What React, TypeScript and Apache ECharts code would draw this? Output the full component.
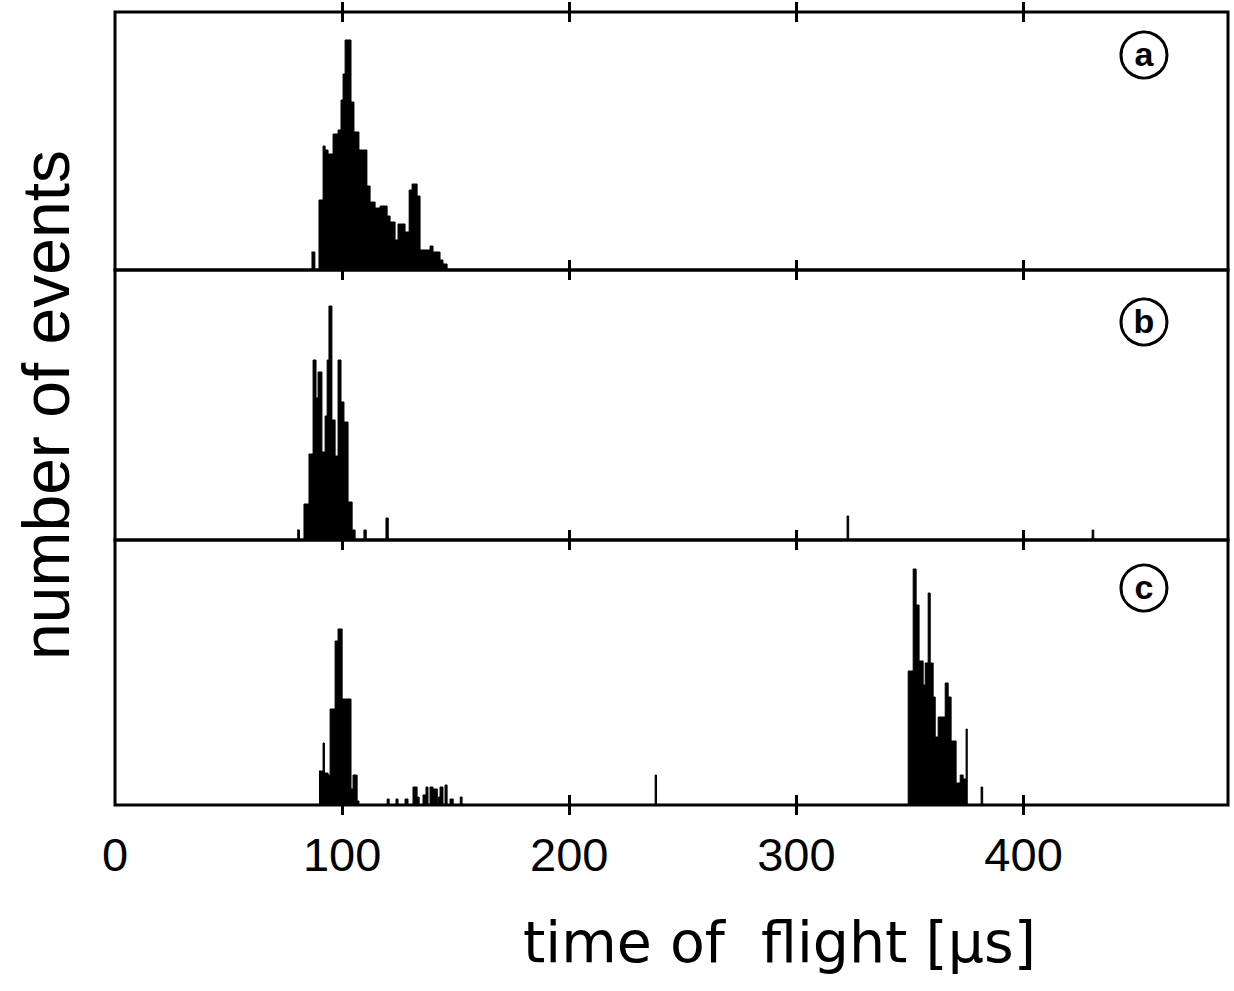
import React, { useEffect, useRef } from "react";
import * as echarts from "echarts";

const X_MIN = 0;
const X_MAX = 490;
const TICK_VALUES = [100, 200, 300, 400];
const LABEL_VALUES = [0, 100, 200, 300, 400];
const Y_MAX = [129, 135, 132.5];
const PANEL_LABELS = ["a", "b", "c"];
const X_TITLE = "time of  flight [μs]";
const Y_TITLE = "number of events";

// histogram bins: [bin start (μs), events]; a bin lasts until the next entry
const PANEL_A = [
  [86.5, 9], [88.0, 0], [89.8, 35], [91.6, 62], [92.5, 60], [93.8, 58], [96.0, 68],
  [98.2, 70], [99.5, 85], [100.4, 98], [101.3, 115], [103.9, 84], [105.2, 69],
  [107.4, 60], [109.2, 60], [110.9, 42], [112.3, 34], [114.5, 31], [116.7, 32],
  [119.8, 27], [121.1, 24], [123.3, 15], [124.6, 23], [127.7, 19], [129.5, 40],
  [130.8, 43], [133.0, 37], [134.3, 10], [135.6, 10], [138.7, 12], [140.0, 9],
  [143.1, 5], [144.4, 3], [146.2, 0],
];

const PANEL_B = [
  [80.2, 5], [81.2, 0], [83.2, 18], [85.4, 43], [87.2, 90], [88.5, 71], [89.4, 84],
  [91.1, 44], [92.5, 62], [93.4, 90], [94.2, 117], [95.5, 60], [96.9, 42],
  [98.2, 90], [99.5, 69], [100.8, 59], [102.6, 19], [104.4, 5], [105.7, 0],
  [109.6, 5], [110.6, 0], [119.3, 11], [120.3, 0], [322.3, 12], [323.0, 0],
  [430.2, 5], [430.9, 0],
];

const PANEL_C = [
  [89.8, 17], [91.6, 31], [92.2, 16], [93.8, 15], [94.7, 48], [96.9, 82], [98.2, 88],
  [100.0, 53], [103.9, 8], [104.8, 15], [106.6, 2], [107.4, 0],
  [119.8, 3], [120.7, 0], [123.7, 3], [124.6, 0], [127.7, 3], [129.0, 0],
  [131.2, 9], [133.0, 4], [133.9, 0], [135.6, 5], [136.9, 9], [137.8, 0],
  [138.7, 9], [140.0, 8], [141.9, 0], [142.3, 4], [143.1, 9], [144.4, 0],
  [145.3, 10], [146.2, 0], [147.5, 3], [148.9, 0], [152.0, 4], [152.8, 0],
  [237.8, 15], [238.4, 0],
  [349.2, 67], [351.4, 118], [352.7, 100], [354.0, 72], [355.8, 60], [356.7, 71],
  [358.0, 106], [358.9, 71], [360.2, 54], [361.1, 34], [362.4, 44], [365.5, 61],
  [366.8, 54], [368.1, 32], [370.3, 11], [372.1, 15], [373.4, 13], [374.7, 38],
  [375.2, 0], [381.3, 9], [382.0, 0],
];

const PANELS = [PANEL_A, PANEL_B, PANEL_C];

const FONT = "'Liberation Sans', sans-serif";
const TITLE_FONT = "'DejaVu Sans', sans-serif";

export default function App() {
  const ref = useRef<HTMLDivElement>(null);

  useEffect(() => {
    if (!ref.current) return;
    const chart = echarts.init(ref.current, undefined, { renderer: "svg" });

    const grids = [
      { left: 115, top: 12, width: 1113, height: 258 },
      { left: 115, top: 270, width: 1113, height: 270 },
      { left: 115, top: 540, width: 1113, height: 265 },
      { left: 115, top: 0, width: 1113, height: 12 }, // cap above
      { left: 115, top: 805, width: 1113, height: 12 }, // cap below
    ].map((g, i) => ({
      ...g,
      show: i < 3,
      borderColor: "#000",
      borderWidth: 3,
      backgroundColor: "transparent",
    }));

    const baseX = (gridIndex: number, position: string, opts: any = {}) => ({
      type: "value",
      gridIndex,
      position,
      min: X_MIN,
      max: X_MAX,
      interval: 100,
      axisLine: { show: false, onZero: false },
      splitLine: { show: false },
      axisTick: {
        show: true,
        inside: true,
        length: 10,
        customValues: TICK_VALUES,
        lineStyle: { color: "#000", width: 3 },
      },
      axisLabel: { show: false },
      ...opts,
    });

    const xAxis = [
      baseX(0, "bottom"),
      baseX(0, "top"),
      baseX(1, "bottom"),
      baseX(1, "top"),
      baseX(2, "bottom", {
        axisLabel: {
          show: true,
          customValues: LABEL_VALUES,
          margin: 26,
          fontSize: 47,
          fontFamily: FONT,
          color: "#000",
          formatter: (v: number) => String(v),
        },
      }),
      baseX(2, "top"),
      baseX(3, "bottom"),
      baseX(4, "top"),
    ];

    const yAxis = [0, 1, 2, 3, 4].map((i) => ({
      type: "value",
      gridIndex: i,
      min: 0,
      max: i < 3 ? Y_MAX[i] : 1,
      axisLine: { show: false, onZero: false },
      axisTick: { show: false },
      axisLabel: { show: false },
      splitLine: { show: false },
      ...(i === 1
        ? {
            name: Y_TITLE,
            nameLocation: "middle",
            nameRotate: 90,
            nameGap: 36,
            nameTextStyle: { fontSize: 66, fontFamily: FONT, color: "#000" },
          }
        : {}),
    }));

    const seriesXIndex = [0, 2, 4];
    const series = PANELS.map((data, i) => ({
      type: "line",
      xAxisIndex: seriesXIndex[i],
      yAxisIndex: i,
      data,
      step: "end",
      symbol: "none",
      silent: true,
      lineStyle: { color: "#000", width: 1 },
      areaStyle: { color: "#000", opacity: 1 },
    }));

    const centers = [55, 322, 588];
    const graphic: any[] = [];
    PANEL_LABELS.forEach((t, i) => {
      graphic.push({
        type: "circle",
        shape: { cx: 1144, cy: centers[i], r: 23 },
        style: { fill: "#fff", stroke: "#000", lineWidth: 3 },
      });
      graphic.push({
        type: "text",
        x: 1144,
        y: centers[i] - 1,
        style: {
          text: t,
          fontSize: 34,
          fontWeight: "bold",
          fontFamily: FONT,
          fill: "#000",
          align: "center",
          verticalAlign: "middle",
        },
      });
    });

    chart.setOption({
      animation: false,
      backgroundColor: "#fff",
      title: {
        text: X_TITLE,
        left: 518,
        top: 908,
        textStyle: { fontSize: 57, fontWeight: "normal", fontFamily: TITLE_FONT, color: "#000" },
      },
      grid: grids,
      xAxis,
      yAxis,
      series,
      graphic,
    });

    return () => chart.dispose();
  }, []);

  return (
    <div
      ref={ref}
      style={{ position: "absolute", left: 0, top: 0, width: 1234, height: 991 }}
    />
  );
}
